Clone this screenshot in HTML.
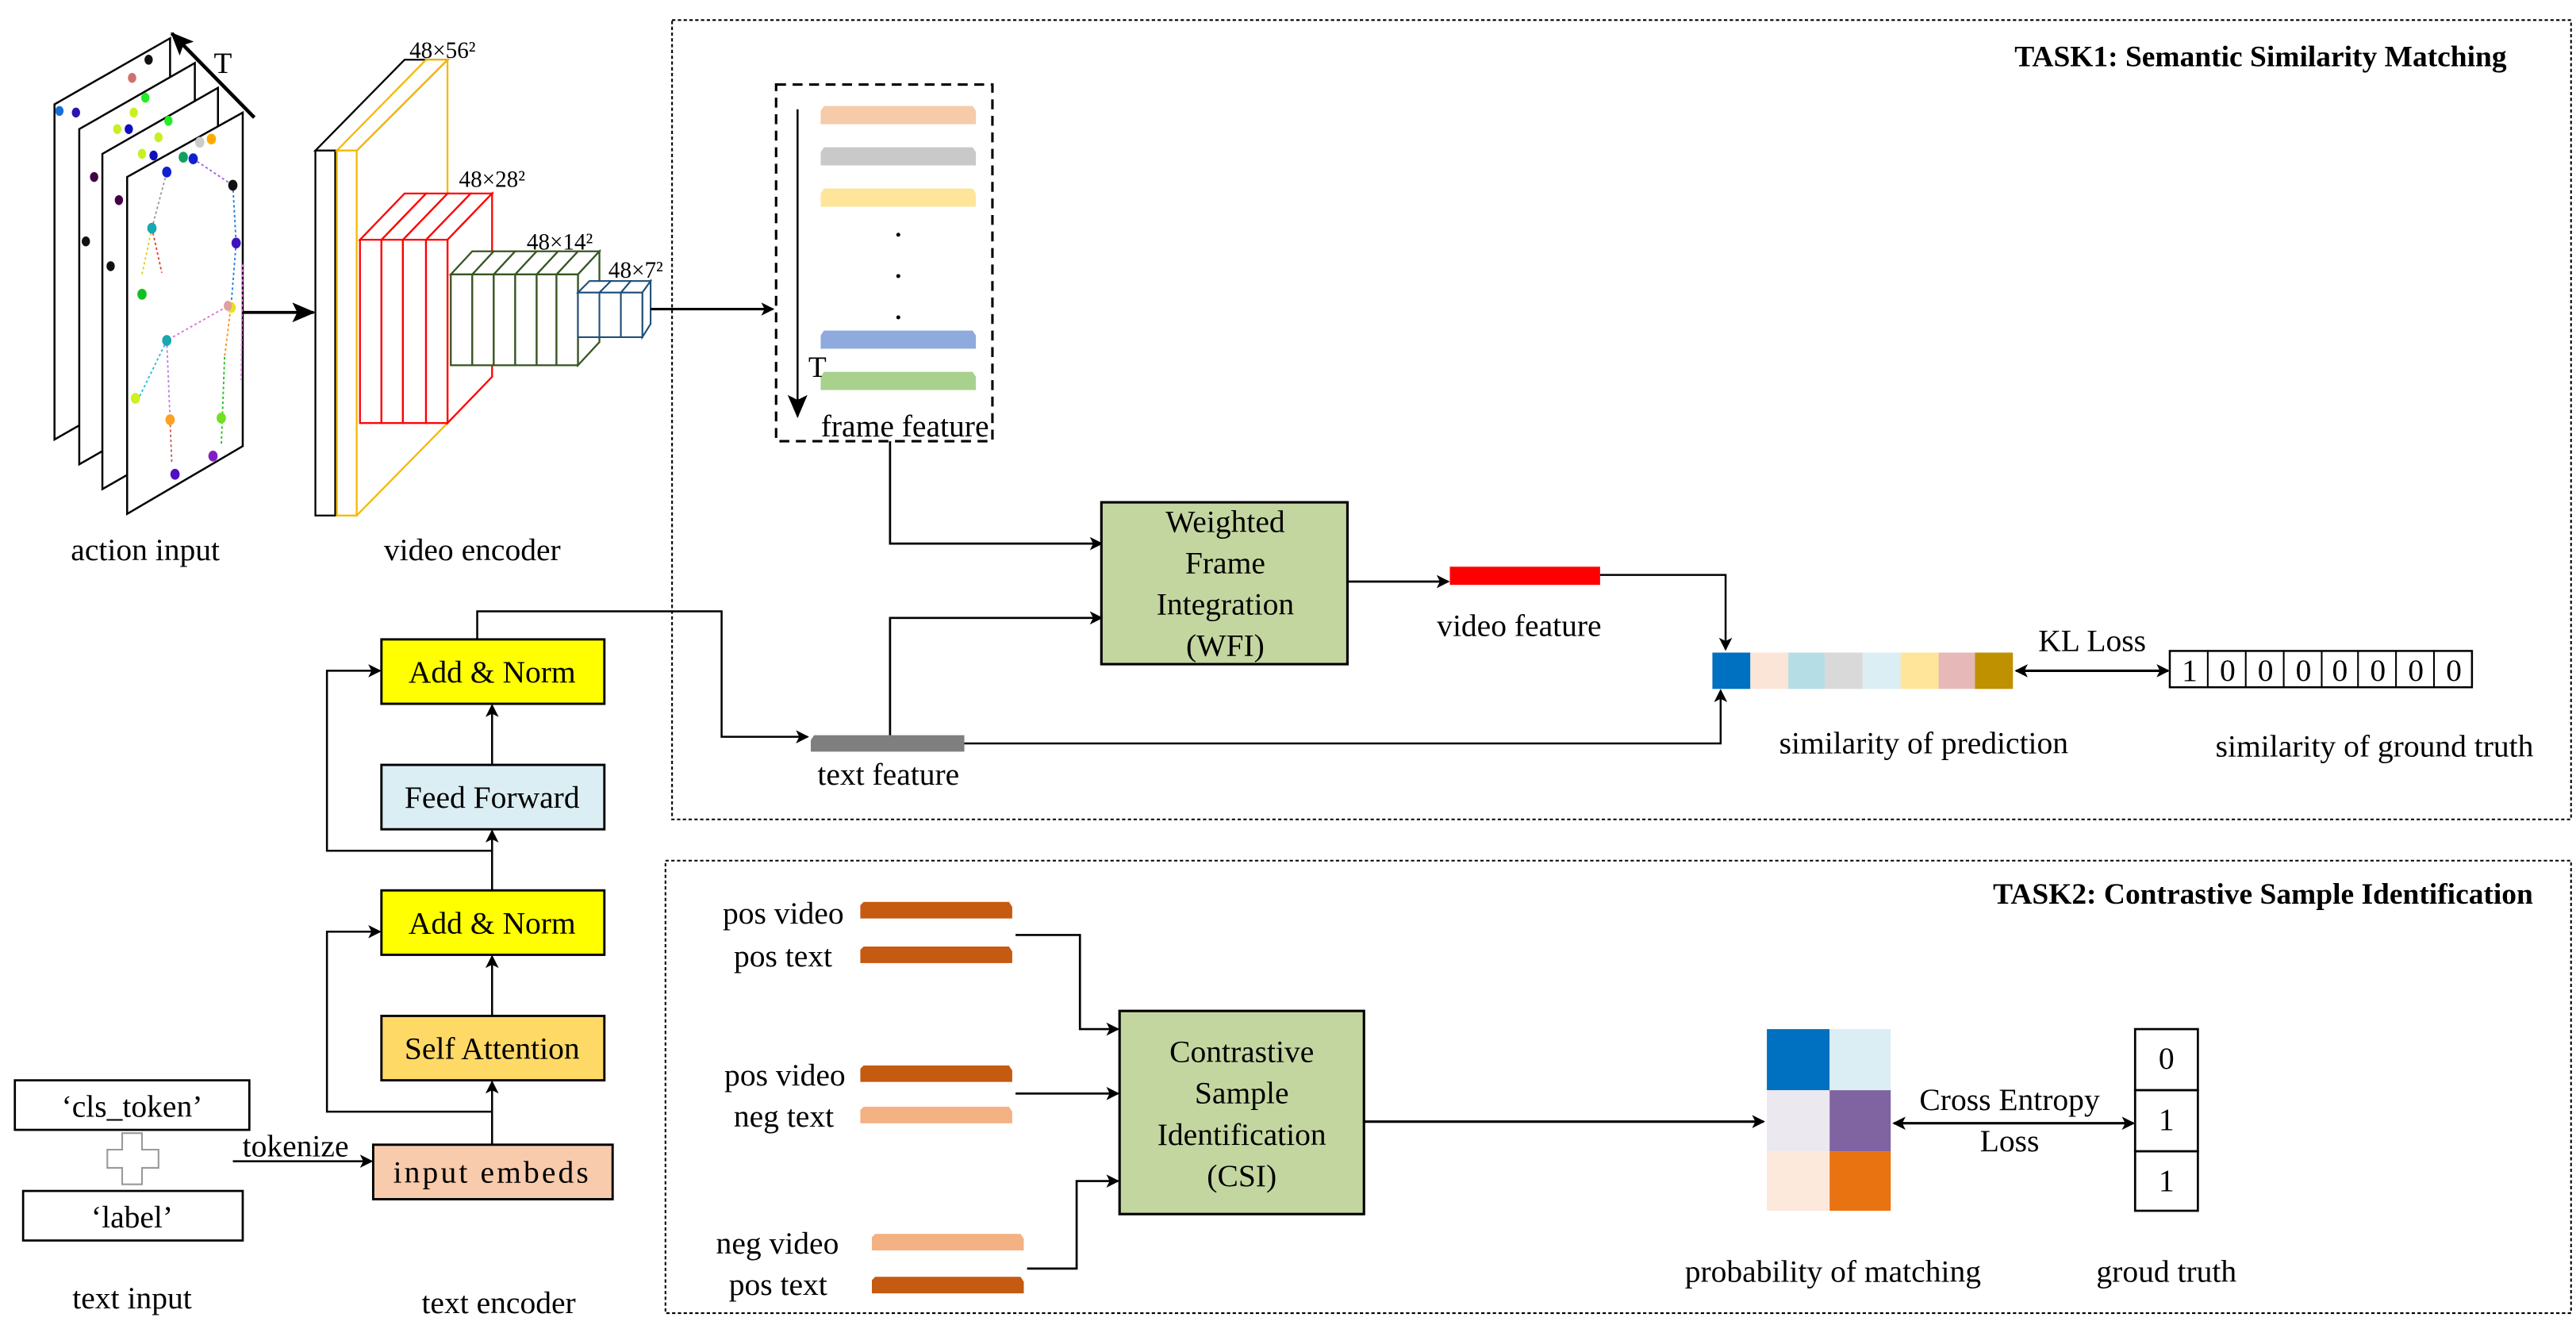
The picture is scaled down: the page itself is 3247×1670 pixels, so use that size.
<!DOCTYPE html>
<html><head><meta charset="utf-8"><style>
html,body{margin:0;padding:0;background:#fff;}
svg{display:block;font-family:"Liberation Serif","Times New Roman",serif;}
svg text{font-family:"Liberation Serif","Times New Roman",serif !important;fill:#000;}
</style></head><body>
<svg width="3247" height="1670" viewBox="0 0 1560 802" xmlns="http://www.w3.org/2000/svg" font-family="Liberation Serif, serif">
<defs>
<marker id="a" markerWidth="8" markerHeight="8" refX="7" refY="4" orient="auto" markerUnits="userSpaceOnUse"><path d="M0,0 L8,4 L0,8 L2,4 Z" fill="#000"/></marker>
<marker id="b" markerWidth="14" markerHeight="12" refX="13" refY="6" orient="auto" markerUnits="userSpaceOnUse"><path d="M0,0 L14,6 L0,12 L3,6 Z" fill="#000"/></marker>
<marker id="as" markerWidth="8" markerHeight="8" refX="1" refY="4" orient="auto" markerUnits="userSpaceOnUse"><path d="M8,0 L0,4 L8,8 L6,4 Z" fill="#000"/></marker>
</defs>

<rect x="407" y="12" width="1150" height="484" fill="none" stroke="#000" stroke-width="1" stroke-dasharray="2,1.5"/>
<rect x="403" y="521" width="1154" height="274" fill="none" stroke="#000" stroke-width="1" stroke-dasharray="2,1.5"/>
<text x="1518" y="40" text-anchor="end" font-weight="bold" font-size="18">TASK1: Semantic Similarity Matching</text>
<text x="1534" y="547" text-anchor="end" font-weight="bold" font-size="18">TASK2: Contrastive Sample Identification</text>

<g stroke="#000" stroke-width="1.2" fill="#fff">
<path d="M33,63 L103,23 L103,226 L33,266 Z"/>
<path d="M48,78 L118,38 L118,241 L48,281 Z"/>
<path d="M62,93 L132,53 L132,256 L62,296 Z"/>
<path d="M77,107 L147,68 L147,270 L77,311 Z"/>
</g>
<g>
<ellipse cx="36" cy="67" rx="2.5" ry="3" fill="#1a6fd6"/><ellipse cx="46" cy="68" rx="2.5" ry="3" fill="#3010b0"/>
<ellipse cx="90" cy="36" rx="2.5" ry="3" fill="#111"/><ellipse cx="80" cy="47" rx="2.5" ry="3" fill="#d07070"/>
<ellipse cx="88" cy="59" rx="2.5" ry="3" fill="#22ee22"/><ellipse cx="81" cy="68" rx="2.5" ry="3" fill="#c8f020"/>
<ellipse cx="71" cy="78" rx="2.5" ry="3" fill="#c8f020"/><ellipse cx="78" cy="78" rx="2.5" ry="3" fill="#1010c0"/>
<ellipse cx="102" cy="73" rx="2.5" ry="3" fill="#22ee22"/><ellipse cx="96" cy="83" rx="2.5" ry="3" fill="#c8f020"/>
<ellipse cx="86" cy="93" rx="2.5" ry="3" fill="#c8f020"/><ellipse cx="93" cy="94" rx="2.5" ry="3" fill="#1010c0"/>
<ellipse cx="57" cy="107" rx="2.5" ry="3" fill="#440044"/><ellipse cx="52" cy="146" rx="2.5" ry="3" fill="#111"/>
<ellipse cx="72" cy="121" rx="2.5" ry="3" fill="#440044"/><ellipse cx="67" cy="161" rx="2.5" ry="3" fill="#111"/>
</g>
<g stroke-dasharray="1.5,1.5" stroke-width="0.9" fill="none">
<path d="M117,96 L141,112" stroke="#a060e0"/><path d="M141,112 L143,147" stroke="#2080e0"/>
<path d="M92,138 L101,104" stroke="#999"/><path d="M92,138 L86,166" stroke="#e0d020"/>
<path d="M92,138 L98,165" stroke="#e04040"/><path d="M143,147 L140,184" stroke="#2080e0"/>
<path d="M140,184 L101,206" stroke="#e070e0"/><path d="M101,206 L84,241" stroke="#20c0e0"/>
<path d="M101,206 L103,254" stroke="#c080e0"/><path d="M103,254 L104,280" stroke="#c06060"/>
<path d="M140,184 L136,216" stroke="#ff9020"/><path d="M136,216 L134,270" stroke="#20c020"/>
<path d="M147,160 L146,230" stroke="#ff70ff"/>
</g>
<g>
<ellipse cx="141" cy="112" rx="2.8" ry="3.3" fill="#111"/><ellipse cx="92" cy="138" rx="2.8" ry="3.3" fill="#18a8b0"/>
<ellipse cx="101" cy="104" rx="2.8" ry="3.3" fill="#1020d0"/><ellipse cx="111" cy="95" rx="2.8" ry="3.3" fill="#10a060"/>
<ellipse cx="117" cy="96" rx="2.8" ry="3.3" fill="#1020d0"/><ellipse cx="121" cy="86" rx="2.8" ry="3.3" fill="#ccc"/>
<ellipse cx="128" cy="84" rx="2.8" ry="3.3" fill="#ffaa00"/><ellipse cx="143" cy="147" rx="2.8" ry="3.3" fill="#4010c0"/>
<ellipse cx="140" cy="186" rx="2.8" ry="3.3" fill="#e8e020"/><ellipse cx="138" cy="185" rx="2.5" ry="3" fill="#e0a0a0"/>
<ellipse cx="101" cy="206" rx="2.8" ry="3.3" fill="#18a8b0"/><ellipse cx="86" cy="178" rx="2.8" ry="3.3" fill="#10c020"/>
<ellipse cx="82" cy="241" rx="2.8" ry="3.3" fill="#d0f020"/><ellipse cx="134" cy="253" rx="2.8" ry="3.3" fill="#70e020"/>
<ellipse cx="103" cy="254" rx="2.8" ry="3.3" fill="#ffa020"/><ellipse cx="129" cy="276" rx="2.8" ry="3.3" fill="#8020c0"/>
<ellipse cx="106" cy="287" rx="2.8" ry="3.3" fill="#5010c0"/>
</g>
<line x1="154" y1="71" x2="104" y2="20" stroke="#000" stroke-width="2.2" marker-end="url(#b)"/>
<text x="135" y="44" font-size="18" text-anchor="middle">T</text>
<line x1="147" y1="189" x2="190" y2="189" stroke="#000" stroke-width="1.8" marker-end="url(#b)"/>
<text x="88" y="339" font-size="19" text-anchor="middle">action input</text>

<g fill="#fff" stroke-width="1.1">
<path d="M191,91 L245,36 L271,36 L216,91 Z" stroke="#000"/>
<rect x="191" y="91" width="12" height="221" stroke="#000"/>
<path d="M204,91 L258,36 L271,36 L216,91 Z" stroke="#f5b800"/>
<rect x="204" y="91" width="12" height="221" stroke="#f5b800"/>
<path d="M271,36 L271,256 L216,312" fill="none" stroke="#f5b800"/>
</g>
<text x="268" y="35" font-size="14" text-anchor="middle">48×56²</text>
<g fill="#fff" stroke="#f00" stroke-width="1.1">
<path d="M258,145 L285,117 L298,117 L271,145 Z"/>
<path d="M244,145 L271,117 L285,117 L258,145 Z"/>
<path d="M231,145 L258,117 L271,117 L244,145 Z"/>
<path d="M218,145 L245,117 L258,117 L231,145 Z"/>
<path d="M271,145 L298,117 L298,228 L271,256 Z"/>
<rect x="218" y="145" width="13" height="111"/><rect x="231" y="145" width="13" height="111"/>
<rect x="244" y="145" width="14" height="111"/><rect x="258" y="145" width="13" height="111"/>
</g>
<text x="298" y="113" font-size="14" text-anchor="middle">48×28²</text>
<g fill="#fff" stroke="#375623" stroke-width="1.1">
<path d="M337,166 L350,166 L363,152 L350,152 Z"/>
<path d="M350,166 L363,152 L363,207 L350,221 Z"/>
<path d="M273,166 L286,152 L299,152 L286,166 Z"/><path d="M286,166 L299,152 L312,152 L299,166 Z"/>
<path d="M299,166 L312,152 L325,152 L312,166 Z"/><path d="M312,166 L325,152 L338,152 L325,166 Z"/>
<path d="M325,166 L338,152 L350,152 L337,166 Z"/>
<rect x="273" y="166" width="13" height="55"/><rect x="286" y="166" width="13" height="55"/>
<rect x="299" y="166" width="13" height="55"/><rect x="312" y="166" width="13" height="55"/>
<rect x="325" y="166" width="12" height="55"/><rect x="337" y="166" width="13" height="55"/>
</g>
<text x="339" y="151" font-size="14" text-anchor="middle">48×14²</text>
<g fill="#fff" stroke="#1f4e79" stroke-width="1">
<path d="M350,177 L357,170 L370,170 L363,177 Z"/><path d="M363,177 L370,170 L382,170 L376,177 Z"/>
<path d="M376,177 L382,170 L394,170 L389,177 Z"/>
<path d="M389,177 L394,170 L394,196 L389,204 Z"/>
<rect x="350" y="177" width="13" height="27"/><rect x="363" y="177" width="13" height="27"/><rect x="376" y="177" width="13" height="27"/>
</g>
<text x="385" y="168" font-size="14" text-anchor="middle">48×7²</text>
<text x="286" y="339" font-size="19" text-anchor="middle">video encoder</text>
<line x1="394" y1="187" x2="468" y2="187" stroke="#000" stroke-width="1.5" marker-end="url(#a)"/>

<rect x="470" y="51" width="131" height="216" fill="none" stroke="#000" stroke-width="1.5" stroke-dasharray="6,4"/>
<g>
<path d="M499,64 L589,64 L591,67 L591,75 L497,75 L497,67 Z" fill="#f5cbaa"/>
<path d="M499,89 L589,89 L591,92 L591,100 L497,100 L497,92 Z" fill="#c9c9c9"/>
<path d="M499,114 L589,114 L591,117 L591,125 L497,125 L497,117 Z" fill="#fee599"/>
<path d="M499,200 L589,200 L591,203 L591,211 L497,211 L497,203 Z" fill="#8faadc"/>
<path d="M499,225 L589,225 L591,228 L591,236 L497,236 L497,228 Z" fill="#a9d18e"/>
<circle cx="544" cy="142" r="1.2" fill="#000"/><circle cx="544" cy="167" r="1.2" fill="#000"/><circle cx="544" cy="192" r="1.2" fill="#000"/>
</g>
<line x1="483" y1="66" x2="483" y2="252" stroke="#000" stroke-width="1.2" marker-end="url(#b)"/>
<text x="495" y="228" font-size="18" text-anchor="middle">T</text>
<text x="548" y="264" font-size="19" text-anchor="middle">frame feature</text>

<polyline points="539,267 539,329 667,329" fill="none" stroke="#000" stroke-width="1.3" marker-end="url(#a)"/>
<rect x="667" y="304" width="149" height="98" fill="#c4d6a0" stroke="#000" stroke-width="1.5"/>
<g font-size="19" text-anchor="middle">
<text x="742" y="322">Weighted</text><text x="742" y="347">Frame</text><text x="742" y="372">Integration</text><text x="742" y="397">(WFI)</text>
</g>
<line x1="816" y1="352" x2="877" y2="352" stroke="#000" stroke-width="1.3" marker-end="url(#a)"/>
<rect x="878" y="343" width="91" height="11" fill="#f00"/>
<text x="920" y="385" font-size="19" text-anchor="middle">video feature</text>
<polyline points="969,348 1045,348 1045,393" fill="none" stroke="#000" stroke-width="1.2" marker-end="url(#a)"/>

<g>
<rect x="1037" y="395" width="23" height="22" fill="#0070c0"/>
<rect x="1060" y="395" width="23" height="22" fill="#fbe5d6"/>
<rect x="1083" y="395" width="22" height="22" fill="#b4dde6"/>
<rect x="1105" y="395" width="23" height="22" fill="#d9d9d9"/>
<rect x="1128" y="395" width="23" height="22" fill="#dbeef4"/>
<rect x="1151" y="395" width="23" height="22" fill="#fee599"/>
<rect x="1174" y="395" width="22" height="22" fill="#e6b9b8"/>
<rect x="1196" y="395" width="23" height="22" fill="#bf9000"/>
</g>
<text x="1165" y="456" font-size="19" text-anchor="middle">similarity of prediction</text>
<text x="1267" y="394" font-size="19" text-anchor="middle">KL Loss</text>
<line x1="1221" y1="406" x2="1313" y2="406" stroke="#000" stroke-width="1.5" marker-start="url(#as)" marker-end="url(#a)"/>
<rect x="1314" y="394" width="183" height="22" fill="#fff" stroke="#000" stroke-width="1.2"/>
<g stroke="#000" stroke-width="1">
<line x1="1337" y1="394" x2="1337" y2="416"/><line x1="1360" y1="394" x2="1360" y2="416"/>
<line x1="1383" y1="394" x2="1383" y2="416"/><line x1="1406" y1="394" x2="1406" y2="416"/>
<line x1="1428" y1="394" x2="1428" y2="416"/><line x1="1451" y1="394" x2="1451" y2="416"/>
<line x1="1474" y1="394" x2="1474" y2="416"/>
</g>
<g font-size="19" text-anchor="middle">
<text x="1326" y="412">1</text><text x="1349" y="412">0</text><text x="1372" y="412">0</text><text x="1395" y="412">0</text>
<text x="1417" y="412">0</text><text x="1440" y="412">0</text><text x="1463" y="412">0</text><text x="1486" y="412">0</text>
</g>
<text x="1438" y="458" font-size="19" text-anchor="middle">similarity of ground truth</text>

<path d="M493,445 L584,445 L584,455 L491,455 L491,448 Z" fill="#7f7f7f"/>
<text x="538" y="475" font-size="19" text-anchor="middle">text feature</text>
<polyline points="584,450 1042,450 1042,418" fill="none" stroke="#000" stroke-width="1.2" marker-end="url(#a)"/>
<polyline points="539,445 539,374 667,374" fill="none" stroke="#000" stroke-width="1.3" marker-end="url(#a)"/>
<polyline points="289,387 289,370 437,370 437,446 489,446" fill="none" stroke="#000" stroke-width="1.2" marker-end="url(#a)"/>

<g stroke="#000" stroke-width="1.4">
<rect x="231" y="387" width="135" height="39" fill="#ffff00"/>
<rect x="231" y="463" width="135" height="39" fill="#dbeef4"/>
<rect x="231" y="539" width="135" height="39" fill="#ffff00"/>
<rect x="231" y="615" width="135" height="39" fill="#ffd966"/>
<rect x="226" y="693" width="145" height="33" fill="#f8cbad"/>
</g>
<g font-size="19" text-anchor="middle">
<text x="298" y="413">Add &amp; Norm</text>
<text x="298" y="489">Feed Forward</text>
<text x="298" y="565">Add &amp; Norm</text>
<text x="298" y="641">Self Attention</text>
<text x="298" y="716" letter-spacing="1.5">input embeds</text>
</g>
<g stroke="#000" stroke-width="1.2" fill="none">
<line x1="298" y1="693" x2="298" y2="655" marker-end="url(#a)"/>
<line x1="298" y1="615" x2="298" y2="579" marker-end="url(#a)"/>
<line x1="298" y1="539" x2="298" y2="503" marker-end="url(#a)"/>
<line x1="298" y1="463" x2="298" y2="427" marker-end="url(#a)"/>
<polyline points="298,673 198,673 198,564 230,564" marker-end="url(#a)"/>
<polyline points="298,515 198,515 198,406 230,406" marker-end="url(#a)"/>
</g>
<text x="302" y="795" font-size="19" text-anchor="middle">text encoder</text>

<rect x="9" y="654" width="142" height="30" fill="#fff" stroke="#000" stroke-width="1.3"/>
<text x="80" y="676" font-size="19" text-anchor="middle">‘cls_token’</text>
<path d="M74,686 L86,686 L86,696 L96,696 L96,707 L86,707 L86,717 L74,717 L74,707 L65,707 L65,696 L74,696 Z" fill="#fff" stroke="#999" stroke-width="1"/>
<rect x="14" y="721" width="133" height="30" fill="#fff" stroke="#000" stroke-width="1.3"/>
<text x="80" y="743" font-size="19" text-anchor="middle">‘label’</text>
<text x="179" y="700" font-size="19" text-anchor="middle">tokenize</text>
<line x1="141" y1="703" x2="225" y2="703" stroke="#000" stroke-width="1.2" marker-end="url(#a)"/>
<text x="80" y="792" font-size="19" text-anchor="middle">text input</text>

<g font-size="19" text-anchor="end">
<text x="511" y="559">pos video</text><text x="504" y="585">pos text</text>
<text x="512" y="657">pos video</text><text x="505" y="682">neg text</text>
<text x="508" y="759">neg video</text><text x="501" y="784">pos text</text>
</g>
<g>
<path d="M523,546 L611,546 L613,549 L613,556 L521,556 L521,548 Z" fill="#c55a11"/>
<path d="M523,573 L611,573 L613,576 L613,583 L521,583 L521,575 Z" fill="#c55a11"/>
<path d="M523,645 L611,645 L613,648 L613,655 L521,655 L521,647 Z" fill="#c55a11"/>
<path d="M523,670 L611,670 L613,673 L613,680 L521,680 L521,672 Z" fill="#f4b183"/>
<path d="M530,747 L618,747 L620,750 L620,757 L528,757 L528,749 Z" fill="#f4b183"/>
<path d="M530,773 L618,773 L620,776 L620,783 L528,783 L528,775 Z" fill="#c55a11"/>
</g>
<g stroke="#000" stroke-width="1.3" fill="none">
<polyline points="615,566 654,566 654,623 677,623" marker-end="url(#a)"/>
<line x1="615" y1="662" x2="677" y2="662" marker-end="url(#a)"/>
<polyline points="622,768 652,768 652,715 677,715" marker-end="url(#a)"/>
</g>
<rect x="678" y="612" width="148" height="123" fill="#c4d6a0" stroke="#000" stroke-width="1.5"/>
<g font-size="19" text-anchor="middle">
<text x="752" y="643">Contrastive</text><text x="752" y="668">Sample</text><text x="752" y="693">Identification</text><text x="752" y="718">(CSI)</text>
</g>
<line x1="826" y1="679" x2="1068" y2="679" stroke="#000" stroke-width="1.5" marker-end="url(#a)"/>
<g>
<rect x="1070" y="623" width="38" height="37" fill="#0070c0"/><rect x="1108" y="623" width="37" height="37" fill="#daeef3"/>
<rect x="1070" y="660" width="38" height="37" fill="#ebe8f0"/><rect x="1108" y="660" width="37" height="37" fill="#8064a2"/>
<rect x="1070" y="697" width="38" height="36" fill="#fce9dc"/><rect x="1108" y="697" width="37" height="36" fill="#e97311"/>
</g>
<text x="1217" y="672" font-size="19" text-anchor="middle">Cross Entropy</text>
<text x="1217" y="697" font-size="19" text-anchor="middle">Loss</text>
<line x1="1147" y1="680" x2="1292" y2="680" stroke="#000" stroke-width="1.5" marker-start="url(#as)" marker-end="url(#a)"/>
<g fill="#fff" stroke="#000" stroke-width="1.3">
<rect x="1293" y="623" width="38" height="37"/><rect x="1293" y="660" width="38" height="37"/><rect x="1293" y="697" width="38" height="36"/>
</g>
<g font-size="19" text-anchor="middle">
<text x="1312" y="647">0</text><text x="1312" y="684">1</text><text x="1312" y="721">1</text>
</g>
<text x="1110" y="776" font-size="19" text-anchor="middle">probability of matching</text>
<text x="1312" y="776" font-size="19" text-anchor="middle">groud truth</text>
</svg>
</body></html>
